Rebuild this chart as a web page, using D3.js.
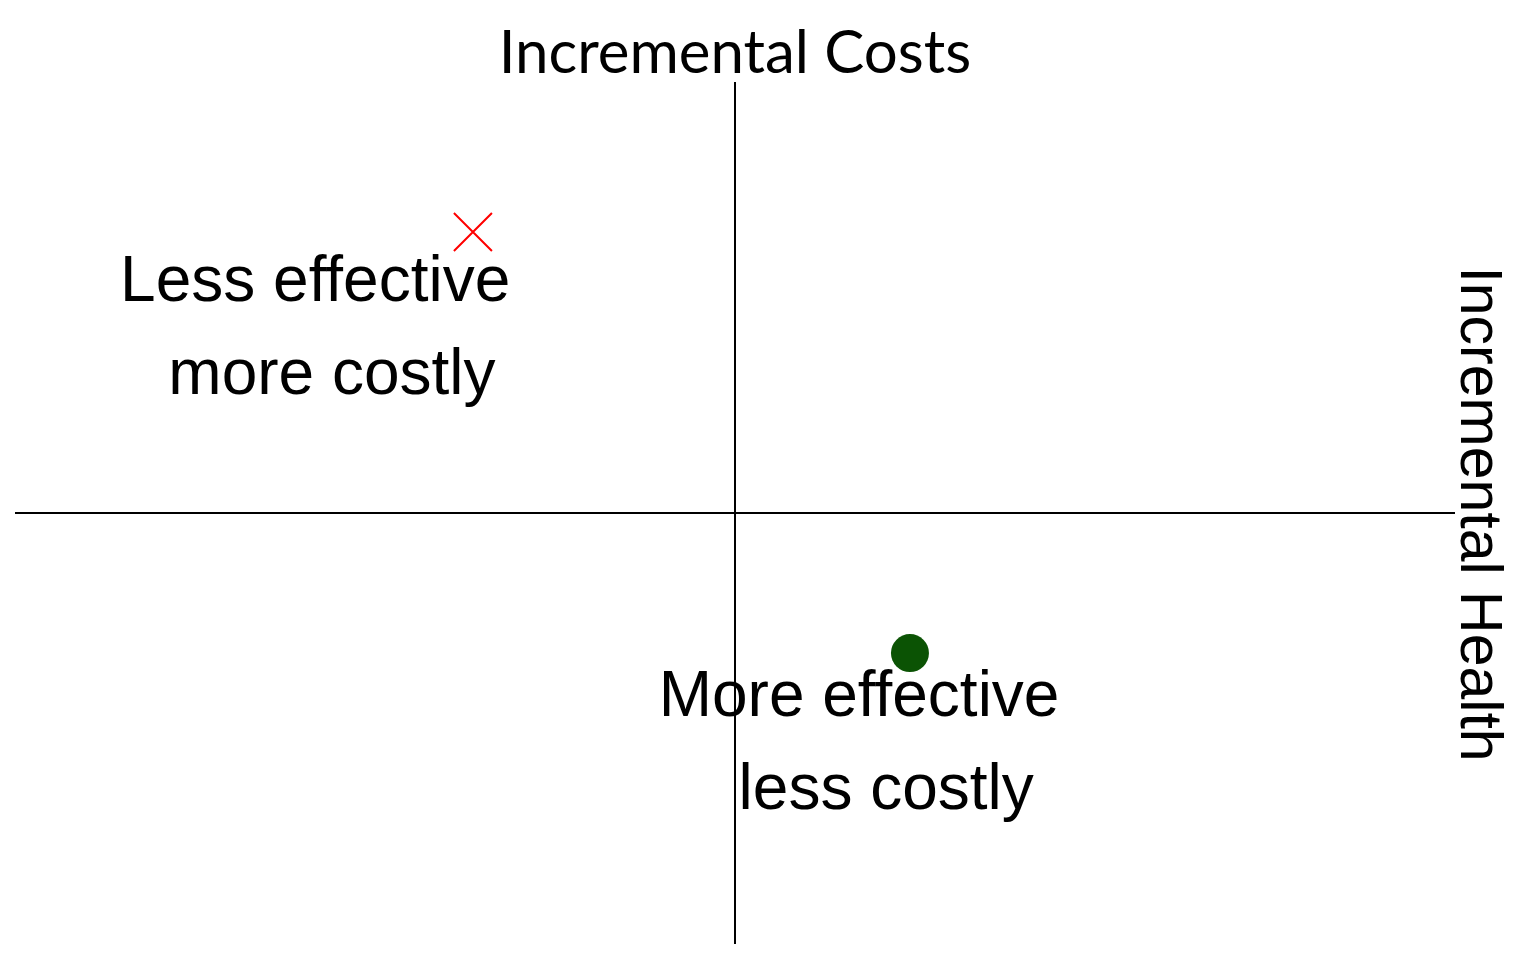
<!DOCTYPE html>
<html lang="en">
<head>
    <meta charset="UTF-8">
    <style>
        body {
            margin: 0;
            background: #fff;
        }
        .axis line {
            stroke: #000;
            stroke-width: 2px;
        }
        .quadrant text {
            font-family: "Liberation Sans", Arial, sans-serif;
            font-size: 64px;
            fill: #000;
        }
        .title {
            font-family: Lato, "Open Sans", sans-serif;
            font-size: 60px;
            fill: #000;
        }
        .side {
            font-family: "Liberation Sans", Arial, sans-serif;
            font-size: 59px;
            fill: #000;
        }
    </style>
    <script src="https://cdnjs.cloudflare.com/ajax/libs/d3/7.8.5/d3.min.js"></script>
</head>
<body>
    <svg width="1536" height="960"></svg>
<script>
    // incremental health (x) and incremental cost (y), both on a -1..1 plane
    var pointNames = ["Dominated", "Dominant"];
    var pointHealth = [-0.364, 0.243];
    var pointCost = [0.652, -0.325];
    var pointShape = ["cross", "dot"];

    var quadrantLines = [
        ["Less effective", "more costly"],
        ["More effective", "less costly"]
    ];
    var quadrantHealth = [-0.854, -0.106];
    var quadrantCost = [0.493, -0.47];
    var secondIndent = [0.067, 0.111];

    var titleText = "Incremental Costs";
    var sideText = "Incremental Health";

    var svg = d3.select("svg");

    var x = d3.scaleLinear().domain([-1, 1]).range([15, 1455]);
    var y = d3.scaleLinear().domain([-1, 1]).range([944, 82]);

    var axis = svg.append("g").attr("class", "axis");
    axis.append("line")
        .attr("x1", x(-1)).attr("x2", x(1))
        .attr("y1", y(0)).attr("y2", y(0));
    axis.append("line")
        .attr("x1", x(0)).attr("x2", x(0))
        .attr("y1", y(-1)).attr("y2", y(1));

    svg.append("text")
        .attr("class", "title")
        .attr("x", x(0))
        .attr("y", 73)
        .attr("text-anchor", "middle")
        .text(titleText);

    svg.append("text")
        .attr("class", "side")
        .attr("text-anchor", "middle")
        .attr("transform", "translate(1461," + (y(0) + 1) + ") rotate(90)")
        .text(sideText);

    // quadrant labels, two lines each
    var quad = svg.append("g").attr("class", "quadrant")
        .selectAll("g")
        .data(quadrantLines).enter()
        .append("g");

    quad.append("text")
        .attr("x", function(d, i) { return x(quadrantHealth[i]); })
        .attr("y", function(d, i) { return y(quadrantCost[i]); })
        .text(function(d) { return d[0]; });

    quad.append("text")
        .attr("x", function(d, i) { return x(quadrantHealth[i] + secondIndent[i]); })
        .attr("y", function(d, i) { return y(quadrantCost[i]) + 93; })
        .text(function(d) { return d[1]; });

    // the two strategies
    var pts = pointNames.map(function(n, i) {
        return { name: n, hx: pointHealth[i], cy: pointCost[i], shape: pointShape[i] };
    });

    var cross = d3.symbol().type(d3.symbolX).size(945);

    svg.append("g").selectAll("path")
        .data(pts.filter(function(d) { return d.shape === "cross"; })).enter()
        .append("path")
        .attr("d", cross)
        .attr("transform", function(d) { return "translate(" + x(d.hx) + "," + y(d.cy) + ")"; })
        .attr("fill", "none")
        .attr("stroke", "#ff0000")
        .attr("stroke-width", 2);

    svg.append("g").selectAll("circle")
        .data(pts.filter(function(d) { return d.shape === "dot"; })).enter()
        .append("circle")
        .attr("cx", function(d) { return x(d.hx); })
        .attr("cy", function(d) { return y(d.cy); })
        .attr("r", 19)
        .attr("fill", "#0b5304");
</script>
</body>
</html>
